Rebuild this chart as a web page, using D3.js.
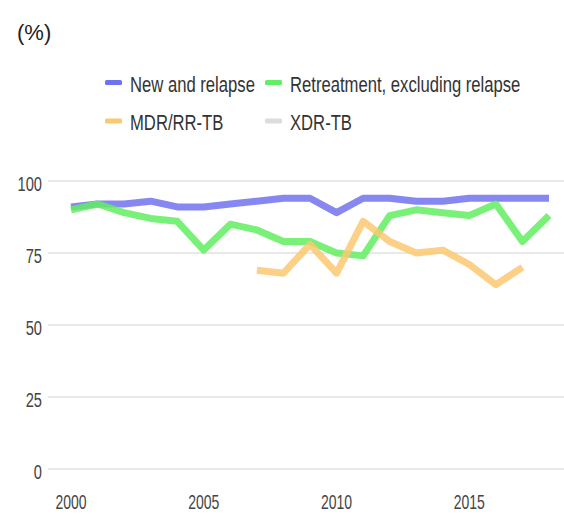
<!DOCTYPE html>
<html>
<head>
<meta charset="utf-8">
<script src="https://cdn.jsdelivr.net/npm/d3@7"></script>
<style>
  body { margin: 0; background: #fff; }
  text { font-family: "Liberation Sans", Arial, sans-serif; }
</style>
</head>
<body>
<svg id="chart"></svg>
<script>
// Treatment success rate (%)
const years = [2000, 2001, 2002, 2003, 2004, 2005, 2006, 2007, 2008, 2009,
               2010, 2011, 2012, 2013, 2014, 2015, 2016, 2017, 2018];
const newRelapse = [91, 92, 92, 93, 91, 91, 92, 93, 94, 94, 89, 94, 94, 93, 93, 94, 94, 94, 94];
const retreatment = [90, 92, 89, 87, 86, 76, 85, 83, 79, 79, 75, 74, 88, 90, 89, 88, 92, 79, 88];
const mdr = [null, null, null, null, null, null, null, 69, 68, 78, 68, 86, 79, 75, 76, 71, 64, 70, null];
const xdr = [null, null, null, null, null, null, null, null, null, null, null, null, null, null, null, null, null, null, null];
const seriesNames = ["New and relapse", "Retreatment, excluding relapse", "MDR/RR-TB", "XDR-TB"];
const seriesColors = ["#7272f0", "#62ee62", "#fbc872", "#dcdcdc"];
const yTicks = [0, 25, 50, 75, 100];
const xTicks = [2000, 2005, 2010, 2015];

const width = 564;
const height = 514;

// the reference text is squeezed horizontally
const tickSqueeze = 0.7;
const legendSqueeze = 0.757;

const svg = d3.select("#chart")
    .attr("width", width)
    .attr("height", height);

const xScale = d3.scaleLinear()
    .domain([2000, 2018])
    .range([71, 549]);

const yScale = d3.scaleLinear()
    .domain([0, 100])
    .range([469, 181]);

// unit label
svg.append("text")
    .attr("x", 17)
    .attr("y", 40)
    .style("font-size", "22px")
    .attr("fill", "#222")
    .text("(%)");

// gridlines
svg.selectAll(".grid")
    .data(yTicks)
    .enter()
    .append("line")
    .attr("class", "grid")
    .attr("x1", 48)
    .attr("x2", width)
    .attr("y1", d => yScale(d))
    .attr("y2", d => yScale(d))
    .attr("stroke", "#e2e2e2")
    .attr("stroke-width", 1.5);

// y tick labels
svg.selectAll(".y-label")
    .data(yTicks)
    .enter()
    .append("text")
    .attr("class", "y-label")
    .attr("transform", d => "translate(42," + (yScale(d) + 2) + ") scale(" + tickSqueeze + ",1)")
    .attr("dy", "0.36em")
    .style("text-anchor", "end")
    .style("font-size", "21px")
    .attr("fill", "#444")
    .text(d => d);

// x tick labels
svg.selectAll(".x-label")
    .data(xTicks)
    .enter()
    .append("text")
    .attr("class", "x-label")
    .attr("transform", d => "translate(" + xScale(d) + ",509) scale(" + tickSqueeze + ",1)")
    .style("text-anchor", "middle")
    .style("font-size", "20px")
    .attr("fill", "#444")
    .text(d => d);

// lines
const line = d3.line()
    .defined(d => d.v != null)
    .x(d => xScale(d.year))
    .y(d => yScale(d.v));

const allSeries = [newRelapse, retreatment, mdr, xdr];

allSeries.forEach((vals, i) => {
    const pts = years.map((y, j) => ({ year: y, v: vals[j] }));
    svg.append("path")
        .datum(pts)
        .attr("d", line)
        .attr("fill", "none")
        .attr("stroke", seriesColors[i])
        .attr("stroke-width", 7)
        .attr("stroke-opacity", 0.85)
        .attr("stroke-linejoin", "round");
});

// legend
const legendPos = [
    { x: 105, y: 82.5 },
    { x: 265, y: 82.5 },
    { x: 105, y: 121 },
    { x: 265, y: 121 }
];

const legend = svg.selectAll(".legend")
    .data(seriesNames)
    .enter()
    .append("g")
    .attr("class", "legend")
    .attr("transform", (d, i) => "translate(" + legendPos[i].x + "," + legendPos[i].y + ")");

legend.append("rect")
    .attr("x", 0)
    .attr("y", -2.5)
    .attr("width", 17)
    .attr("height", 5)
    .attr("rx", 1.5)
    .attr("fill", (d, i) => seriesColors[i]);

legend.append("text")
    .attr("transform", "translate(25,9) scale(" + legendSqueeze + ",1)")
    .style("font-size", "22px")
    .attr("fill", "#333")
    .text(d => d);
</script>
</body>
</html>
